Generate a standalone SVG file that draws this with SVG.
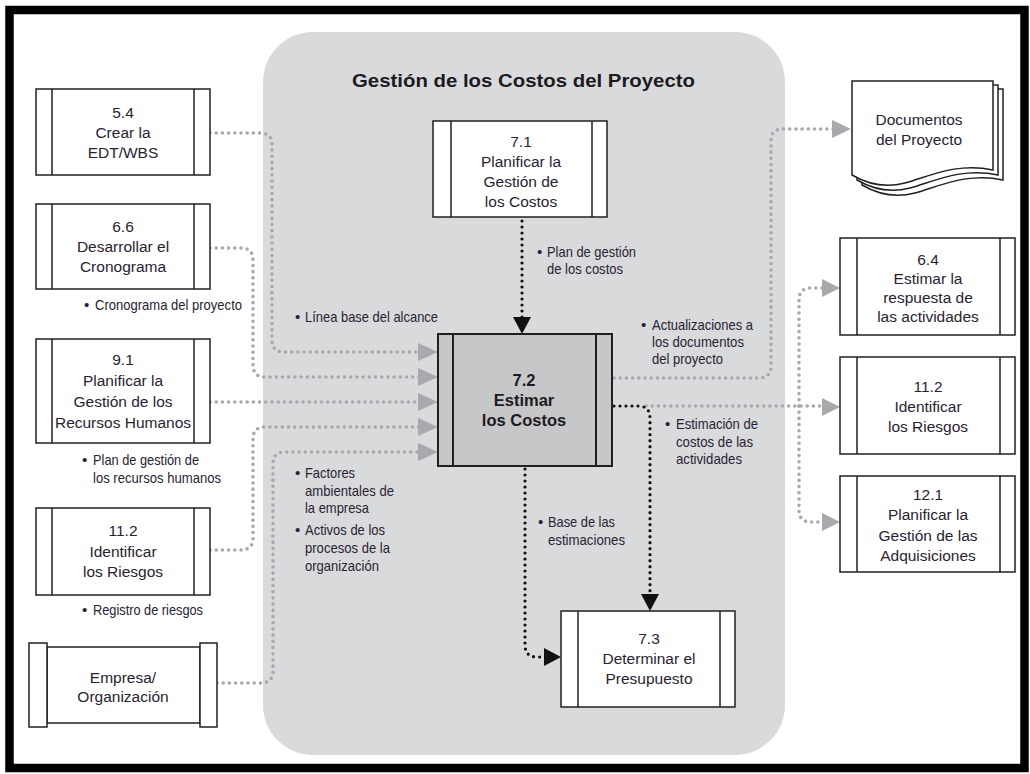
<svg xmlns="http://www.w3.org/2000/svg" width="1030" height="774" viewBox="0 0 1030 774">
<style>
.box{fill:#fff;stroke:#231f20;stroke-width:1.5}
.ln{stroke:#231f20;stroke-width:1.5}
.nt{font-family:'Liberation Sans',Arial,sans-serif;font-size:15.5px;fill:#2a2233;text-anchor:middle}
.bt{font-family:'Liberation Sans',Arial,sans-serif;font-size:16.5px;font-weight:bold;fill:#1e1a22;text-anchor:middle}
.lbl{font-family:'Liberation Sans',Arial,sans-serif;font-size:15px;fill:#2a2233}
.gd{fill:none;stroke:#a7a9ac;stroke-width:3.6;stroke-linecap:round;stroke-dasharray:0 6.2}
.bd{fill:none;stroke:#111;stroke-width:3.2;stroke-linecap:round;stroke-dasharray:0 6}
.ga{fill:#a7a9ac}
.ba{fill:#111}
</style>
<rect x="0" y="0" width="1030" height="774" fill="#fff"/>
<rect x="9.5" y="10" width="1015" height="758" fill="none" stroke="#000" stroke-width="8.5"/>
<rect id="panel" x="263" y="32" width="522" height="723" rx="50" ry="50" fill="#d9dadc"/>
<text x="352" y="87" font-family="'Liberation Sans',Arial,sans-serif" font-size="19" font-weight="bold" fill="#1e1a22" textLength="343" lengthAdjust="spacingAndGlyphs">Gestión de los Costos del Proyecto</text>

<g id="connectors">
  <path class="gd" d="M210,133 H260 Q272,133 272,145 V340 Q272,352 284,352 H420"/>
  <path class="gd" d="M210,248 H241 Q253,248 253,260 V365 Q253,377 265,377 H420"/>
  <path class="gd" d="M210,402 H420"/>
  <path class="gd" d="M210,550 H241 Q253,550 253,538 V439 Q253,427 265,427 H420"/>
  <path class="gd" d="M217,683 H261 Q273,683 273,671 V464 Q273,452 285,452 H420"/>
  <polygon class="ga" points="438,352 418,343 418,361"/>
  <polygon class="ga" points="438,377 418,368 418,386"/>
  <polygon class="ga" points="438,402 418,393 418,411"/>
  <polygon class="ga" points="438,427 418,418 418,436"/>
  <polygon class="ga" points="438,452 418,443 418,461"/>

  <path class="gd" d="M614,378 H759 Q771,378 771,366 V141 Q771,129 783,129 H834"/>
  <polygon class="ga" points="851,129 832,120 832,138"/>

  <path class="gd" d="M646,406 H824"/>
  <path class="gd" d="M799,406 V300 Q799,288 811,288 H824"/>
  <path class="gd" d="M799,406 V510 Q799,522 811,522 H824"/>
  <polygon class="ga" points="840,288 822,279 822,297"/>
  <polygon class="ga" points="840,407 822,398 822,416"/>
  <polygon class="ga" points="840,522 822,513 822,531"/>

  <path class="bd" d="M522,221 V318"/>
  <polygon class="ba" points="522,334 513,317 531,317"/>
  <path class="bd" d="M614,406 H638 Q650,406 650,418 V596"/>
  <polygon class="ba" points="650,611 641,594 659,594"/>
  <path class="bd" d="M525,469 V645 Q525,657 537,657 H545"/>
  <polygon class="ba" points="561,657 544,648 544,666"/>
</g>

<g id="lbl-cronograma"><text class="lbl" x="84" y="310">•</text><text class="lbl" x="95" y="310" textLength="147" lengthAdjust="spacingAndGlyphs">Cronograma del proyecto</text></g>
<g id="lbl-linea"><text class="lbl" x="295" y="322">•</text><text class="lbl" x="305" y="322" textLength="133" lengthAdjust="spacingAndGlyphs">Línea base del alcance</text></g>
<g id="lbl-rrhh"><text class="lbl" x="82" y="465">•</text><text class="lbl" x="93" y="465" textLength="106" lengthAdjust="spacingAndGlyphs">Plan de gestión de</text><text class="lbl" x="93" y="483" textLength="128" lengthAdjust="spacingAndGlyphs">los recursos humanos</text></g>
<g id="lbl-riesgos"><text class="lbl" x="82" y="615">•</text><text class="lbl" x="93" y="615" textLength="110" lengthAdjust="spacingAndGlyphs">Registro de riesgos</text></g>
<g id="lbl-factores"><text class="lbl" x="295" y="478">•</text><text class="lbl" x="305" y="478" textLength="50" lengthAdjust="spacingAndGlyphs">Factores</text><text class="lbl" x="305" y="496" textLength="89" lengthAdjust="spacingAndGlyphs">ambientales de</text><text class="lbl" x="305" y="513" textLength="64" lengthAdjust="spacingAndGlyphs">la empresa</text>
<text class="lbl" x="295" y="535">•</text><text class="lbl" x="305" y="535" textLength="80" lengthAdjust="spacingAndGlyphs">Activos de los</text><text class="lbl" x="305" y="553" textLength="85" lengthAdjust="spacingAndGlyphs">procesos de la</text><text class="lbl" x="305" y="571" textLength="74" lengthAdjust="spacingAndGlyphs">organización</text></g>
<g id="lbl-plancostos"><text class="lbl" x="537" y="257">•</text><text class="lbl" x="547" y="257" textLength="89" lengthAdjust="spacingAndGlyphs">Plan de gestión</text><text class="lbl" x="547" y="274" textLength="76" lengthAdjust="spacingAndGlyphs">de los costos</text></g>
<g id="lbl-base"><text class="lbl" x="538" y="527">•</text><text class="lbl" x="548" y="527" textLength="67" lengthAdjust="spacingAndGlyphs">Base de las</text><text class="lbl" x="548" y="545" textLength="77" lengthAdjust="spacingAndGlyphs">estimaciones</text></g>
<g id="lbl-actualiz"><text class="lbl" x="641" y="330">•</text><text class="lbl" x="652" y="330" textLength="101" lengthAdjust="spacingAndGlyphs">Actualizaciones a</text><text class="lbl" x="652" y="347" textLength="92" lengthAdjust="spacingAndGlyphs">los documentos</text><text class="lbl" x="652" y="364" textLength="71" lengthAdjust="spacingAndGlyphs">del proyecto</text></g>
<g id="lbl-estim"><text class="lbl" x="665" y="429">•</text><text class="lbl" x="676" y="429" textLength="82" lengthAdjust="spacingAndGlyphs">Estimación de</text><text class="lbl" x="676" y="447" textLength="77" lengthAdjust="spacingAndGlyphs">costos de las</text><text class="lbl" x="676" y="464" textLength="66" lengthAdjust="spacingAndGlyphs">actividades</text></g>

<g id="n54"><rect class="box" x="36" y="89" width="174" height="86"/><line class="ln" x1="52" y1="89" x2="52" y2="175"/><line class="ln" x1="194" y1="89" x2="194" y2="175"/>
<text class="nt" x="123" y="118">5.4</text><text class="nt" x="123" y="138">Crear la</text><text class="nt" x="123" y="158">EDT/WBS</text></g>
<g id="n66"><rect class="box" x="36" y="204" width="174" height="85"/><line class="ln" x1="52" y1="204" x2="52" y2="289"/><line class="ln" x1="194" y1="204" x2="194" y2="289"/>
<text class="nt" x="123" y="232">6.6</text><text class="nt" x="123" y="252">Desarrollar el</text><text class="nt" x="123" y="272">Cronograma</text></g>
<g id="n91"><rect class="box" x="36" y="339" width="174" height="104"/><line class="ln" x1="52" y1="339" x2="52" y2="443"/><line class="ln" x1="194" y1="339" x2="194" y2="443"/>
<text class="nt" x="123" y="365">9.1</text><text class="nt" x="123" y="386">Planificar la</text><text class="nt" x="123" y="407">Gestión de los</text><text class="nt" x="123" y="428">Recursos Humanos</text></g>
<g id="n112a"><rect class="box" x="36" y="508" width="174" height="87"/><line class="ln" x1="52" y1="508" x2="52" y2="595"/><line class="ln" x1="194" y1="508" x2="194" y2="595"/>
<text class="nt" x="123" y="536">11.2</text><text class="nt" x="123" y="557">Identificar</text><text class="nt" x="123" y="577">los Riesgos</text></g>
<g id="empresa"><rect class="box" x="47" y="647" width="153" height="76"/><rect class="box" x="29" y="643" width="18" height="84"/><rect class="box" x="200" y="643" width="17" height="84"/>
<text class="nt" x="123" y="683">Empresa/</text><text class="nt" x="123" y="702">Organización</text></g>

<g id="n71"><rect class="box" x="433" y="121" width="174" height="96"/><line class="ln" x1="451" y1="121" x2="451" y2="217"/><line class="ln" x1="592" y1="121" x2="592" y2="217"/>
<text class="nt" x="521" y="147">7.1</text><text class="nt" x="521" y="167">Planificar la</text><text class="nt" x="521" y="187">Gestión de</text><text class="nt" x="521" y="207">los Costos</text></g>
<g id="n72"><rect x="438" y="334" width="174" height="132" fill="#c6c7c9" stroke="#231f20" stroke-width="2"/><line x1="453" y1="334" x2="453" y2="466" stroke="#231f20" stroke-width="2"/><line x1="596" y1="334" x2="596" y2="466" stroke="#231f20" stroke-width="2"/>
<text class="bt" x="524" y="386">7.2</text><text class="bt" x="524" y="406">Estimar</text><text class="bt" x="524" y="426">los Costos</text></g>
<g id="n73"><rect class="box" x="561" y="611" width="174" height="96"/><line class="ln" x1="578" y1="611" x2="578" y2="707"/><line class="ln" x1="720" y1="611" x2="720" y2="707"/>
<text class="nt" x="649" y="644">7.3</text><text class="nt" x="649" y="664">Determinar el</text><text class="nt" x="649" y="684">Presupuesto</text></g>

<g id="docs">
<path class="box" d="M862,89 H1003 V180 C968,172 940,186 915,193 C892,199 874,192 862,185 Z"/>
<path class="box" d="M857,85 H998 V175 C963,167 935,181 910,188 C887,194 869,187 857,180 Z"/>
<path class="box" d="M852,81 H993 V170 C958,162 930,176 905,183 C882,189 864,182 852,175 Z"/>
<text class="nt" x="919" y="125">Documentos</text><text class="nt" x="919" y="145">del Proyecto</text></g>
<g id="n64"><rect class="box" x="840" y="238" width="175" height="97"/><line class="ln" x1="857" y1="238" x2="857" y2="335"/><line class="ln" x1="1000" y1="238" x2="1000" y2="335"/>
<text class="nt" x="928" y="265">6.4</text><text class="nt" x="928" y="284">Estimar la</text><text class="nt" x="928" y="303">respuesta de</text><text class="nt" x="928" y="322">las actividades</text></g>
<g id="n112b"><rect class="box" x="840" y="357" width="175" height="97"/><line class="ln" x1="857" y1="357" x2="857" y2="454"/><line class="ln" x1="1000" y1="357" x2="1000" y2="454"/>
<text class="nt" x="928" y="392">11.2</text><text class="nt" x="928" y="412">Identificar</text><text class="nt" x="928" y="432">los Riesgos</text></g>
<g id="n121"><rect class="box" x="840" y="476" width="175" height="96"/><line class="ln" x1="857" y1="476" x2="857" y2="572"/><line class="ln" x1="1000" y1="476" x2="1000" y2="572"/>
<text class="nt" x="928" y="500">12.1</text><text class="nt" x="928" y="520">Planificar la</text><text class="nt" x="928" y="541">Gestión de las</text><text class="nt" x="928" y="561">Adquisiciones</text></g>
</svg>
